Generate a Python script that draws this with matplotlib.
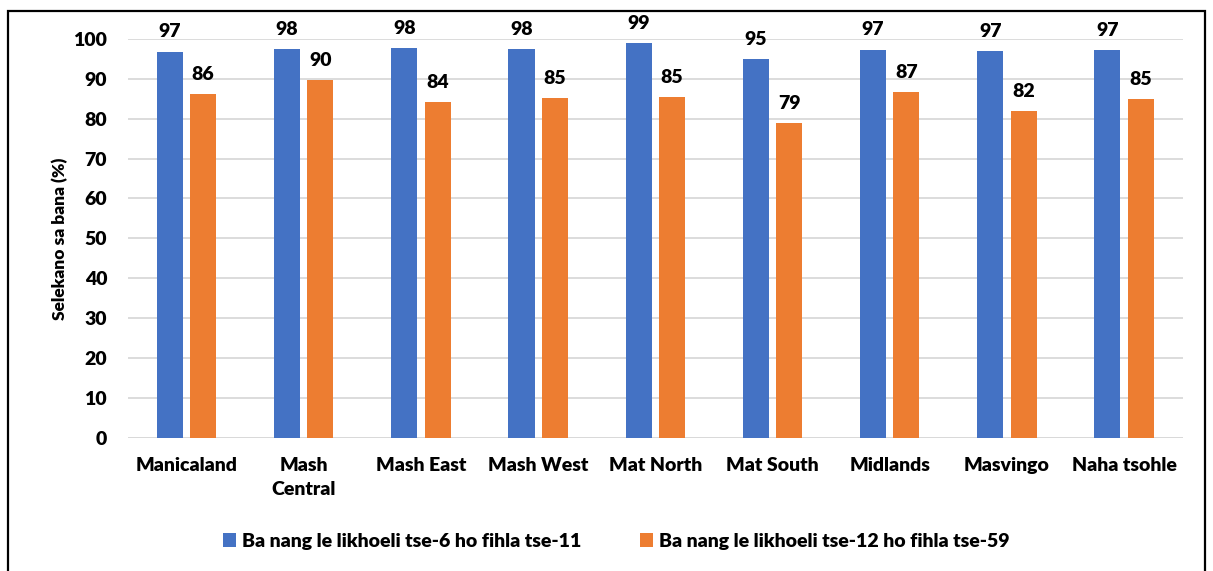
import numpy as np
import matplotlib.pyplot as plt
from matplotlib.patches import Rectangle

plt.rcParams['font.family'] = ['Lato', 'DejaVu Sans']
plt.rcParams['font.weight'] = 'bold'

regions = ['Manicaland', 'Mash\nCentral', 'Mash East', 'Mash West', 'Mat North',
           'Mat South', 'Midlands', 'Masvingo', 'Naha tsohle']
# 6-11 months
young = [96.8, 97.5, 97.6, 97.5, 98.9, 95.0, 97.3, 96.9, 97.2]
# 12-59 months
older = [86.2, 89.6, 84.1, 85.2, 85.3, 78.9, 86.6, 81.8, 84.8]
series_names = ['Ba nang le likhoeli tse-6 ho fihla tse-11',
                'Ba nang le likhoeli tse-12 ho fihla tse-59']
colors = ['#4472C4', '#ED7D31']

fig = plt.figure(figsize=(12.13, 5.71), dpi=100)
ax = fig.add_axes([0.1055, 0.233, 0.8695, 0.699])

x = np.arange(len(regions))
w = 0.222
off = 0.142
b1 = ax.bar(x - off, young, w, color=colors[0], label=series_names[0], zorder=3)
b2 = ax.bar(x + off, older, w, color=colors[1], label=series_names[1], zorder=3)

fs = 14
for bars, vals in ((b1, young), (b2, older)):
    for rect, v in zip(bars, vals):
        ax.annotate(f'{v:.0f}', (rect.get_x() + rect.get_width() / 2, v),
                    xytext=(0, 8), textcoords='offset points',
                    ha='center', va='bottom', fontsize=fs,
                    fontweight='heavy', annotation_clip=False)

ax.set_xlim(-0.5, len(regions) - 0.5)
ax.set_ylim(0, 100)
ax.set_yticks(np.arange(0, 101, 10))
ax.set_xticks(x)
ax.set_xticklabels(regions, fontsize=fs, fontweight='heavy', linespacing=1.45)
for t in ax.get_yticklabels():
    t.set_fontweight('heavy')
ax.tick_params(axis='y', labelsize=fs, length=0, pad=15)
ax.tick_params(axis='x', length=0, pad=14)
ax.grid(axis='y', color='#D9D9D9', linewidth=1.3, zorder=0)
for s in ax.spines.values():
    s.set_visible(False)
ax.axhline(0, color='#D9D9D9', linewidth=1.3, zorder=1)

ax.set_ylabel('Selekano sa bana (%)', fontsize=12.5, fontweight='heavy', labelpad=4)

leg = fig.legend(loc='center', bbox_to_anchor=(0.508, 0.052), ncol=2, frameon=False,
                 prop={'size': fs, 'weight': 'heavy'}, handlelength=0.7,
                 handleheight=0.7, handletextpad=0.3, columnspacing=3.0)

fig.patches.append(Rectangle((8 / 1213, -0.05), 1197 / 1213, 1 - 11 / 571 + 0.05,
                             transform=fig.transFigure, fill=False,
                             edgecolor='black', linewidth=1.6))

fig.savefig('out.png', dpi=100)
